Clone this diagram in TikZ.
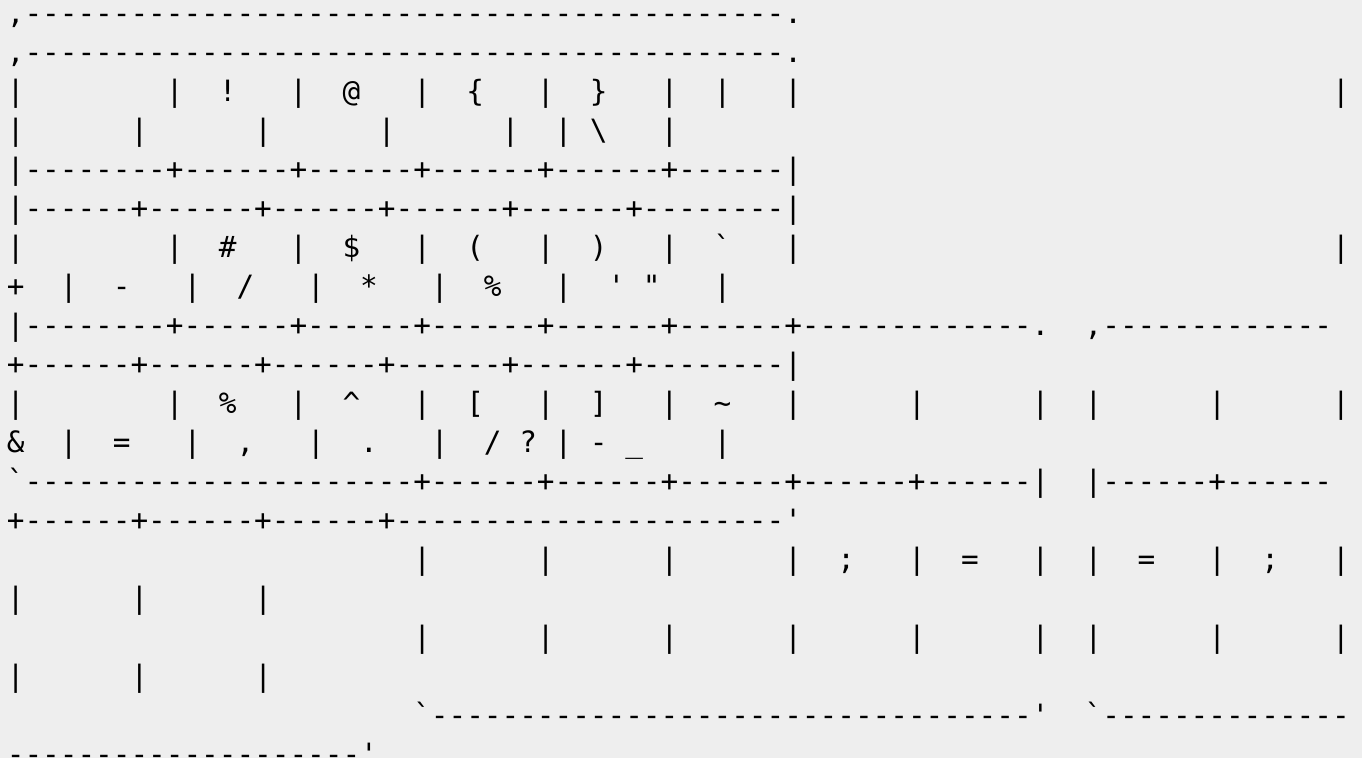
\documentclass[tikz,border=0pt]{standalone}
\usepackage{fontspec}
\setmonofont{DejaVu Sans Mono}
\ExplSyntaxOn
\cs_new:Npn \Blank #1 {\prg_replicate:nn{#1}{\nobreakspace}}
\cs_new:Npn \Dashes #1 {\prg_replicate:nn{#1}{-}}
\ExplSyntaxOff
\definecolor{bgcol}{HTML}{EEEEEE}
\definecolor{inkcol}{HTML}{000000}
\tikzset{asciirow/.style={anchor=base west, inner sep=0pt, outer sep=0pt,
  font=\ttfamily\fontsize{29.35}{39}\selectfont, text=inkcol}}
\begin{document}
\begin{tikzpicture}[x=1pt,y=1pt]
\useasboundingbox (0,0) rectangle (1362,-758);
\clip (0,0) rectangle (1362,-758);
\fill[bgcol] (0,0) rectangle (1362,-758);
\node[asciirow] (r1) at (6.87,-23.4) {,\Dashes{43}.};
\node[asciirow] (r2) at (6.87,-62.4) {,\Dashes{43}.};
\node[asciirow] (r3) at (6.87,-101.4) {|\Blank{8}|\Blank{2}!\Blank{3}|\Blank{2}@\Blank{3}|\Blank{2}\{\Blank{3}|\Blank{2}\}\Blank{3}|\Blank{2}|\Blank{3}|\Blank{30}|};
\node[asciirow] (r4) at (6.87,-140.4) {|\Blank{6}|\Blank{6}|\Blank{6}|\Blank{6}|\Blank{2}|\Blank{1}\textbackslash\Blank{3}|};
\node[asciirow] (r5) at (6.87,-179.4) {|\Dashes{8}+\Dashes{6}+\Dashes{6}+\Dashes{6}+\Dashes{6}+\Dashes{6}|};
\node[asciirow] (r6) at (6.87,-218.4) {|\Dashes{6}+\Dashes{6}+\Dashes{6}+\Dashes{6}+\Dashes{6}+\Dashes{8}|};
\node[asciirow] (r7) at (6.87,-257.4) {|\Blank{8}|\Blank{2}\#\Blank{3}|\Blank{2}\$\Blank{3}|\Blank{2}(\Blank{3}|\Blank{2})\Blank{3}|\Blank{2}`\Blank{3}|\Blank{30}|};
\node[asciirow] (r8) at (6.87,-296.4) {+\Blank{2}|\Blank{2}-\Blank{3}|\Blank{2}/\Blank{3}|\Blank{2}*\Blank{3}|\Blank{2}\%\Blank{3}|\Blank{2}'\Blank{1}"\Blank{3}|};
\node[asciirow] (r9) at (6.87,-335.4) {|\Dashes{8}+\Dashes{6}+\Dashes{6}+\Dashes{6}+\Dashes{6}+\Dashes{6}+\Dashes{13}.\Blank{2},\Dashes{13}};
\node[asciirow] (r10) at (6.87,-374.4) {+\Dashes{6}+\Dashes{6}+\Dashes{6}+\Dashes{6}+\Dashes{6}+\Dashes{8}|};
\node[asciirow] (r11) at (6.87,-413.4) {|\Blank{8}|\Blank{2}\%\Blank{3}|\Blank{2}\textasciicircum\Blank{3}|\Blank{2}[\Blank{3}|\Blank{2}]\Blank{3}|\Blank{2}\textasciitilde\Blank{3}|\Blank{6}|\Blank{6}|\Blank{2}|\Blank{6}|\Blank{6}|};
\node[asciirow] (r12) at (6.87,-452.4) {\&\Blank{2}|\Blank{2}=\Blank{3}|\Blank{2},\Blank{3}|\Blank{2}.\Blank{3}|\Blank{2}/\Blank{1}?\Blank{1}|\Blank{1}-\Blank{1}\_\Blank{4}|};
\node[asciirow] (r13) at (6.87,-491.4) {`\Dashes{22}+\Dashes{6}+\Dashes{6}+\Dashes{6}+\Dashes{6}+\Dashes{6}|\Blank{2}|\Dashes{6}+\Dashes{6}};
\node[asciirow] (r14) at (6.87,-530.4) {+\Dashes{6}+\Dashes{6}+\Dashes{6}+\Dashes{22}'};
\node[asciirow] (r15) at (6.87,-569.4) {\Blank{23}|\Blank{6}|\Blank{6}|\Blank{6}|\Blank{2};\Blank{3}|\Blank{2}=\Blank{3}|\Blank{2}|\Blank{2}=\Blank{3}|\Blank{2};\Blank{3}|};
\node[asciirow] (r16) at (6.87,-608.4) {|\Blank{6}|\Blank{6}|};
\node[asciirow] (r17) at (6.87,-647.4) {\Blank{23}|\Blank{6}|\Blank{6}|\Blank{6}|\Blank{6}|\Blank{6}|\Blank{2}|\Blank{6}|\Blank{6}|};
\node[asciirow] (r18) at (6.87,-686.4) {|\Blank{6}|\Blank{6}|};
\node[asciirow] (r19) at (6.87,-725.4) {\Blank{23}`\Dashes{34}'\Blank{2}`\Dashes{14}};
\node[asciirow] (r20) at (6.87,-764.4) {\Dashes{20}'};
\end{tikzpicture}
\end{document}
